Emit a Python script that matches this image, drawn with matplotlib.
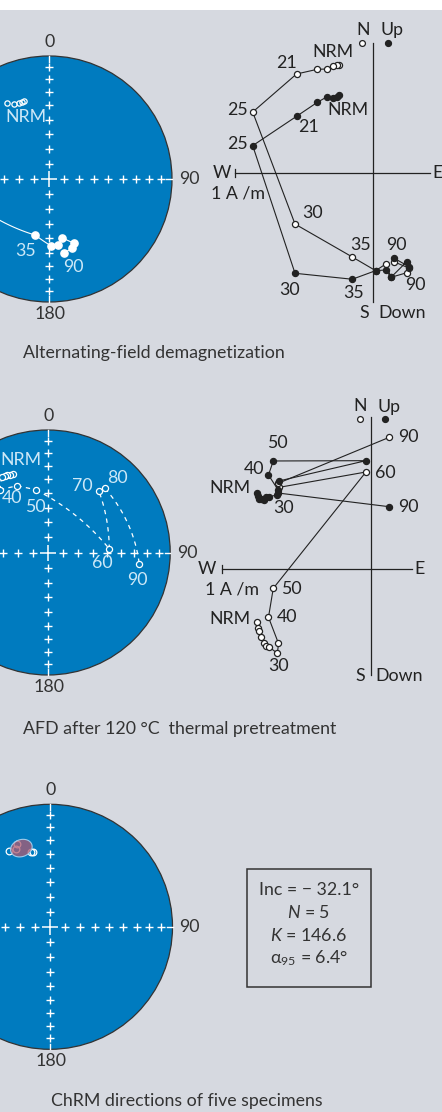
import numpy as np
import matplotlib
matplotlib.use("Agg")
import matplotlib.pyplot as plt
from matplotlib.patches import Circle, Rectangle, Polygon

W, H = 442, 1112
BG = "#d6d9e0"
BLUE = "#007bbf"
PALE = "#cde8f7"
INK = "#222222"

plt.rcParams["font.family"] = ["Lato", "DejaVu Sans"]
plt.rcParams["mathtext.fontset"] = "custom"
plt.rcParams["mathtext.rm"] = "Lato"
plt.rcParams["mathtext.it"] = "Lato:italic"
FS = 12.8

# ---------------- data ----------------
# panel a: AF demagnetization, stereonet (upper hemisphere NRM, lower hemisphere path)
af_nrm_dec = [331.2, 335.0, 338.7, 340.5, 342.2]
af_nrm_inc = [-30.4, -33.2, -33.8, -33.8, -33.8]
af_low_steps = ["30", "35", "40", "50", "60", "70", "80", "90"]
af_low_dec = [263.0, 193.7, 178.5, 172.0, 167.5, 158.7, 161.4, 168.5]
af_low_inc = [27.9, 51.2, 44.9, 44.9, 49.6, 43.3, 40.3, 38.8]

# panel a: Zijderveld (A/m)
af_steps = ["NRM", "5", "10", "15", "18", "21", "25", "30", "35", "40", "50", "60", "70", "80", "90"]
af_east = [-0.246, -0.260, -0.289, -0.337, -0.405, -0.555, -0.872, -0.566, -0.152,
           0.017, 0.090, 0.128, 0.242, 0.258, 0.152]
af_north = [0.566, 0.554, 0.547, 0.552, 0.513, 0.412, 0.200, -0.723, -0.766,
            -0.704, -0.699, -0.752, -0.639, -0.675, -0.615]
af_up = [0.781, 0.781, 0.776, 0.754, 0.752, 0.718, 0.443, -0.367, -0.605,
         -0.704, -0.656, -0.752, -0.719, -0.685, -0.641]

# panel b: AFD after 120 C, stereonet (all upper hemisphere)
th_st_steps = ["NRM", "a", "b", "c", "d", "30", "40", "50", "60", "70", "80", "90"]
th_st_dec = [336.3, 334.2, 332.4, 330.8, 328.6, 322.6, 335.4, 349.4, 86.7, 39.7, 41.8, 97.3]
th_st_inc = [-30.9, -30.1, -29.6, -29.2, -28.8, -36.0, -40.0, -47.0, -48.3, -35.0, -30.5, -25.6]

# panel b: Zijderveld (A/m)
th_steps = ["NRM", "a", "b", "c", "d", "e", "f", "30", "35", "40", "50", "60", "70", "80", "90"]
th_east = [-0.769, -0.758, -0.754, -0.742, -0.718, -0.707, -0.689, -0.630, -0.623,
           -0.690, -0.658, -0.036, -0.619, -0.626, 0.121]
th_north = [0.510, 0.492, 0.474, 0.470, 0.465, 0.483, 0.487, 0.499, 0.529,
            0.633, 0.727, 0.729, 0.593, 0.512, 0.420]
th_up = [-0.352, -0.396, -0.412, -0.452, -0.497, -0.513, -0.519, -0.564, -0.497,
         -0.322, -0.128, 0.653, 0.550, 0.577, 0.886]

# panel c: ChRM of five specimens
chrm_dec = [331.9, 336.3, 338.5, 345.6, 347.5]
chrm_inc = [-30.3, -31.5, -28.2, -36.8, -37.3]
mean_dec, mean_inc = 340.0, -32.1
n_spec, kappa, a95 = 5, 146.6, 6.4

captions = ["Alternating-field demagnetization",
            "AFD after 120 \u00b0C  thermal pretreatment",
            "ChRM directions of five specimens"]


# ---------------- helpers ----------------
def dir2vec(dec, inc):
    d, i = np.radians(dec), np.radians(inc)
    return np.array([np.cos(i) * np.cos(d), np.cos(i) * np.sin(d), np.sin(i)])


def vec2dir(v):
    v = v / np.linalg.norm(v, axis=0)
    return np.degrees(np.arctan2(v[1], v[0])), np.degrees(np.arcsin(v[2]))


def proj(dec, inc):
    dec = np.radians(np.asarray(dec, float))
    colat = np.radians(90 - np.abs(np.asarray(inc, float)))
    r = np.sqrt(2) * np.sin(colat / 2)
    return r * np.sin(dec), r * np.cos(dec)


def arc(d1, i1, d2, i2, n=40):
    v1, v2 = dir2vec(d1, i1), dir2vec(d2, i2)
    om = np.arccos(np.clip(v1 @ v2, -1, 1))
    t = np.linspace(0, 1, n)
    if om < 1e-6:
        v = np.outer(v1, np.ones(n))
    else:
        v = (np.outer(v1, np.sin((1 - t) * om)) + np.outer(v2, np.sin(t * om))) / np.sin(om)
    return proj(*vec2dir(v))


def px_axes(fig, x0, y0, x1, y1):
    return fig.add_axes([x0 / W, 1 - y1 / H, (x1 - x0) / W, (y1 - y0) / H])


def net(fig, cx, cy, R):
    m = 1.35
    ax = px_axes(fig, cx - m * R, cy - m * R, cx + m * R, cy + m * R)
    ax.set_xlim(-m, m)
    ax.set_ylim(-m, m)
    ax.axis("off")
    ax.add_patch(Circle((0, 0), 1, facecolor=BLUE, edgecolor="#333333", lw=0.9, zorder=0))
    rr = np.sqrt(2) * np.sin(np.radians(np.arange(10, 90, 10)) / 2)
    for sx, sy in [(0, 1), (1, 0), (0, -1), (-1, 0)]:
        ax.plot(sx * rr, sy * rr, "+", color="white", ms=5.8, mew=1.0, zorder=1)
        ax.plot([sx * 0.955, sx * 1.0], [sy * 0.955, sy * 1.0], color="white", lw=1.0, zorder=1)
    ax.plot(0, 0, "+", color="white", ms=12, mew=1.1, zorder=1)
    ax.annotate("0", (0, 1), xytext=(0.5, 14), textcoords="offset pixels",
                ha="center", va="center", fontsize=FS, color="#333333")
    ax.annotate("90", (1, 0), xytext=(17, 0), textcoords="offset pixels",
                ha="center", va="center", fontsize=FS, color="#333333")
    ax.annotate("180", (0, -1), xytext=(1.5, -12), textcoords="offset pixels",
                ha="center", va="center", fontsize=FS, color="#333333")
    return ax


def zij(fig, ox, oy, s, box, xe, ytop, ybot):
    x0, y0, x1, y1 = box
    ax = px_axes(fig, x0, y0, x1, y1)
    ax.set_xlim((x0 - ox) / s, (x1 - ox) / s)
    ax.set_ylim((oy - y1) / s, (oy - y0) / s)
    ax.axis("off")
    ax.plot([-1, xe], [0, 0], color=INK, lw=0.9)
    ax.plot([0, 0], [ybot, ytop], color=INK, lw=0.9)
    ax.plot([-1, -1], [-4 / s, 4 / s], color=INK, lw=0.9)
    return ax


def lab(ax, text, xy, off, color=INK, fs=FS):
    ax.annotate(text, xy, xytext=off, textcoords="offset pixels",
                ha="center", va="center", fontsize=fs, color=color)


def zpts(ax, e, n, u):
    ax.plot(e, u, "-", color=INK, lw=0.8, zorder=2)
    ax.plot(e, n, "-", color=INK, lw=0.8, zorder=2)
    ax.plot(e, u, "o", ms=4.4, mfc="white", mec=INK, mew=0.9, zorder=3)
    ax.plot(e, n, "o", ms=4.4, mfc=INK, mec=INK, mew=0.9, zorder=3)


fig = plt.figure(figsize=(W / 100, H / 100), dpi=100, facecolor=BG)
over = fig.add_axes([0, 0, 1, 1])
over.set_xlim(0, W)
over.set_ylim(H, 0)
over.axis("off")
over.add_patch(Rectangle((0, 0), W, 10, facecolor="white", edgecolor="none"))

# ---------------- panel a ----------------
ax = net(fig, 49, 179, 123)
x, y = proj(af_nrm_dec, af_nrm_inc)
ax.plot(x, y, "o", ms=3.8, mfc="none", mec="white", mew=0.9, zorder=3)
lab(ax, "NRM", (x[-1], y[-1]), (1.5, -15.7), PALE)
for k in range(len(af_low_dec) - 1):
    ax_, ay_ = arc(af_low_dec[k], af_low_inc[k], af_low_dec[k + 1], af_low_inc[k + 1])
    ax.plot(ax_, ay_, color="white", lw=0.8, zorder=2)
x, y = proj(af_low_dec, af_low_inc)
ax.plot(x, y, "o", ms=5.2, color="white", zorder=3)
lab(ax, "35", (x[1], y[1]), (-9.6, -15.7), PALE)
lab(ax, "90", (x[-1], y[-1]), (9.7, -14), PALE)

az = zij(fig, 373.3, 173.3, 138.3, (200, 20, 442, 330), 0.41, 0.944, -0.928)
zpts(az, af_east, af_north, af_up)
lab(az, "N", (0, 0.944), (-10, 12.7))
lab(az, "Up", (0, 0.944), (18.4, 12.7))
az.plot(-11 / 138.3, 0.944 - 0.6 / 138.3, "o", ms=4.2, mfc="white", mec=INK, mew=0.9)
az.plot(14.4 / 138.3, 0.944 - 0.6 / 138.3, "o", ms=4.2, color=INK)
lab(az, "S", (0, -0.928), (-9.3, -11))
lab(az, "Down", (0, -0.928), (28.4, -11))
lab(az, "W", (-1, 0), (-12.7, 0))
lab(az, "E", (0.41, 0), (7.3, 0))
lab(az, "1 A /m", (-1, 0), (3.3, -20))
i = af_steps.index
lab(az, "NRM", (af_east[0], af_up[0]), (-6, 13.6))
lab(az, "21", (af_east[i("21")], af_up[i("21")]), (-10.5, 11.3))
lab(az, "25", (af_east[i("25")], af_up[i("25")]), (-15.4, 2))
lab(az, "NRM", (af_east[0], af_north[0]), (8.4, -15))
lab(az, "21", (af_east[i("21")], af_north[i("21")]), (11.8, -10.4))
lab(az, "25", (af_east[i("25")], af_north[i("25")]), (-15.4, 1.7))
lab(az, "30", (af_east[i("30")], af_up[i("30")]), (17, 10.7))
lab(az, "35", (af_east[i("35")], af_up[i("35")]), (8.7, 12))
lab(az, "30", (af_east[i("30")], af_north[i("30")]), (-5.7, -16.7))
lab(az, "35", (af_east[i("35")], af_north[i("35")]), (1, -14))
lab(az, "90", (af_east[-1], af_up[-1]), (2.4, 17))
lab(az, "90", (af_east[-1], af_north[-1]), (20.7, -26.7))

over.text(22.7, 353.3, captions[0], ha="left", va="center", fontsize=FS, color="#333333")

# ---------------- panel b ----------------
ax = net(fig, 47.7, 552.5, 122.5)
for k in range(len(th_st_dec) - 1):
    ax_, ay_ = arc(th_st_dec[k], th_st_inc[k], th_st_dec[k + 1], th_st_inc[k + 1])
    ax.plot(ax_, ay_, color="white", lw=0.9, ls=(0, (3.5, 3.5)), zorder=2)
x, y = proj(th_st_dec, th_st_inc)
ax.plot(x, y, "o", ms=4.4, mfc=BLUE, mec="white", mew=0.9, zorder=3)
j = th_st_steps.index
lab(ax, "NRM", (x[0], y[0]), (7.7, 14.3), PALE)
lab(ax, "40", (x[j("40")], y[j("40")]), (-5.3, -12.3), PALE)
lab(ax, "50", (x[j("50")], y[j("50")]), (-1, -16.7), PALE)
lab(ax, "60", (x[j("60")], y[j("60")]), (-6.6, -13.7), PALE)
lab(ax, "70", (x[j("70")], y[j("70")]), (-16, 5.3), PALE)
lab(ax, "80", (x[j("80")], y[j("80")]), (12.3, 10.6), PALE)
lab(ax, "90", (x[j("90")], y[j("90")]), (-2, -15.7), PALE)

az = zij(fig, 371.3, 569.3, 149.0, (190, 395, 442, 700), 0.271, 1.022, -0.708)
zpts(az, th_east, th_north, th_up)
lab(az, "N", (0, 1.022), (-11.3, 11))
lab(az, "Up", (0, 1.022), (18, 10.3))
az.plot(-11.3 / 149, 1.022 - 2.3 / 149, "o", ms=4.2, mfc="white", mec=INK, mew=0.9)
az.plot(13.7 / 149, 1.022 - 2.3 / 149, "o", ms=4.2, color=INK)
lab(az, "S", (0, -0.708), (-11.3, -1))
lab(az, "Down", (0, -0.708), (28, -1))
lab(az, "W", (-1, 0), (-15.6, 0))
lab(az, "E", (0.271, 0), (7.6, 0))
lab(az, "1 A /m", (-1, 0), (9.4, -20))
i = th_steps.index
lab(az, "NRM", (th_east[0], th_up[0]), (-26.4, 2.4))
lab(az, "30", (th_east[i("30")], th_up[i("30")]), (1, -12.7))
lab(az, "40", (th_east[i("40")], th_up[i("40")]), (18.6, 0))
lab(az, "50", (th_east[i("50")], th_up[i("50")]), (18.4, -0.7))
lab(az, "60", (th_east[i("60")], th_up[i("60")]), (19.7, -0.7))
lab(az, "90", (th_east[i("90")], th_up[i("90")]), (19, 0))
lab(az, "NRM", (th_east[0], th_north[0]), (-26.7, 5))
lab(az, "30", (th_east[i("30")], th_north[i("30")]), (6, -12.7))
lab(az, "40", (th_east[i("40")], th_north[i("40")]), (-14.3, 6.3))
lab(az, "50", (th_east[i("50")], th_north[i("50")]), (4.4, 17.7))
lab(az, "90", (th_east[i("90")], th_north[i("90")]), (19, 0))

over.text(22.7, 729, captions[1], ha="left", va="center", fontsize=FS, color="#333333")

# ---------------- panel c ----------------
ax = net(fig, 50, 926.8, 122.5)
x, y = proj(chrm_dec, chrm_inc)
ax.plot(x, y, "o", ms=4.8, mfc="none", mec="white", mew=0.9, zorder=3)
# alpha95 cone around the mean direction
vm = dir2vec(mean_dec, mean_inc)
ref = np.array([0.0, 0.0, 1.0])
e1 = np.cross(vm, ref)
e1 /= np.linalg.norm(e1)
e2 = np.cross(vm, e1)
t = np.linspace(0, 2 * np.pi, 90)
a = np.radians(a95)
cone = (np.outer(vm, np.ones_like(t)) * np.cos(a)
        + np.sin(a) * (np.outer(e1, np.cos(t)) + np.outer(e2, np.sin(t))))
cx_, cy_ = proj(*vec2dir(cone))
ax.add_patch(Polygon(np.column_stack([cx_, cy_]), closed=True, facecolor="#b05a70",
                     alpha=0.75, edgecolor="none", zorder=4))
ax.add_patch(Polygon(np.column_stack([cx_, cy_]), closed=True, facecolor="none",
                     edgecolor="#9fcbea", lw=0.8, zorder=4))

over.add_patch(Rectangle((246.7, 869.3), 124.3, 118, facecolor="none", edgecolor="#333333", lw=1.1))
stats = ["Inc = \u2212 %.1f\u00b0" % abs(mean_inc),
         "$N$ = %d" % n_spec,
         "$K$ = %.1f" % kappa,
         "\u03b1$_{95}$ = %.1f\u00b0" % a95]
for k, s in enumerate(stats):
    over.text(309, 890 + 22.8 * k, s, ha="center", va="center", fontsize=FS, color="#333333")

over.text(50.7, 1101, captions[2], ha="left", va="center", fontsize=FS, color="#333333")

fig.savefig("out.png", dpi=100, facecolor=BG)
